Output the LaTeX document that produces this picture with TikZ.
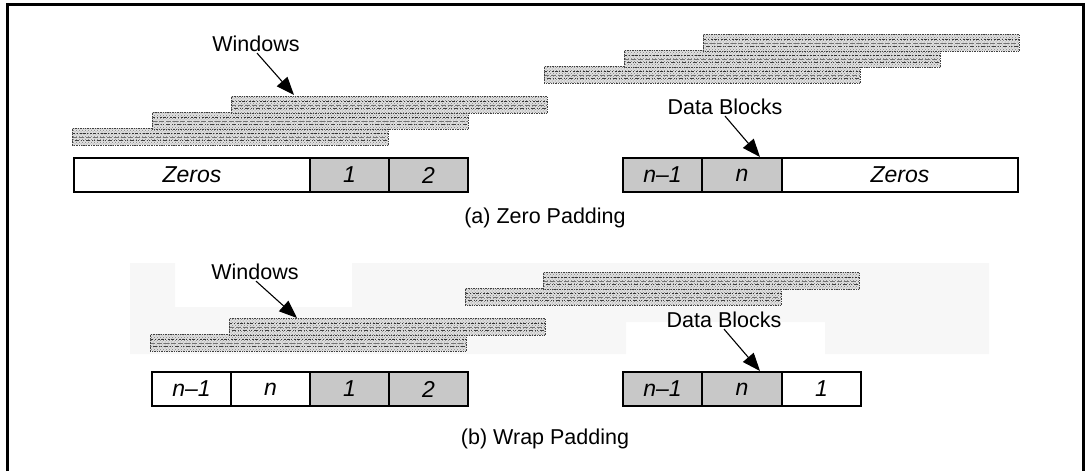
\documentclass[tikz,border=0pt]{standalone}
\usepackage{fontspec}
\setmainfont{Liberation Sans}
\usetikzlibrary{arrows.meta,patterns}
\definecolor{cellgray}{HTML}{C8C8C8}
\definecolor{faint}{HTML}{F7F7F7}
\begin{document}
\begin{tikzpicture}[x=1pt,y=-1pt,
  cell/.style={draw, line width=1.4pt, minimum height=34pt, minimum width=79pt, inner sep=0pt,
    font=\itshape\fontsize{23}{27}\selectfont},
  gcell/.style={cell, fill=cellgray},
  lbl/.style={inner sep=1pt, font=\fontsize{21.5}{25}\selectfont},
  arr/.style={line width=1.1pt, -{Triangle[length=18pt,width=14pt]}},
  win/.style={draw=black!75, densely dotted, line width=0.7pt, inner sep=0pt,
    minimum width=316pt, minimum height=17pt, anchor=north west,
    preaction={fill=gray!24}, pattern=crosshatch dots, pattern color=black!50,
    path picture={
      \draw[black!80, solid, dash pattern=on 3pt off 1.5pt on 1pt off 2pt on 2pt off 1pt, line width=0.9pt]
        ([yshift=-5pt]path picture bounding box.north west) -- ([yshift=-5pt]path picture bounding box.north east);
      \draw[black!75, solid, dash pattern=on 1pt off 2pt on 4pt off 2pt on 1pt off 1pt, line width=0.9pt]
        ([yshift=5pt]path picture bounding box.south west) -- ([yshift=5pt]path picture bounding box.south east);
      \draw[black!55, solid, dash pattern=on 5pt off 2pt, line width=0.6pt]
        (path picture bounding box.west) -- (path picture bounding box.east);}},
]
\useasboundingbox (0,0) rectangle (1086,471);
% frame
\draw[line width=3pt] (7,471) -- (7,4) -- (1083,4) -- (1083,471);

% ---------- (a) Zero padding ----------
\node[win] (wa1) at (72,128) {};
\node[win] (wa2) at (152,112) {};
\node[win] (wa3) at (231,96) {};
\node[win] (wa4) at (544,66) {};
\node[win] (wa5) at (624,50) {};
\node[win] (wa6) at (703,34) {};

\node[cell, minimum width=236pt] (az0) at (192,175) {Zeros};
\node[gcell] (a1) at (349.5,175) {1};
\node[gcell] (a2) at (428.5,175) {2};

\node[gcell] (an1) at (662.5,175) {n–1};
\node[gcell] (an) at (742,175) {n};
\node[cell, minimum width=236pt] (az1) at (900,175) {Zeros};

\node[lbl] (wla) at (256,44) {Windows};
\coordinate (wlat) at (294,95);
\draw[arr] ([xshift=1pt]wla.south) -- (wlat);

\node[lbl] (dla) at (725,107) {Data Blocks};
\coordinate (dlat) at (760,157);
\draw[arr] (dla.south) -- (dlat);

\node[lbl] (capa) at (545,218) {(a) Zero Padding};

% ---------- (b) Wrap padding ----------
\fill[faint] (130,263) -- (175,263) -- (175,307) -- (352,307) -- (352,263) -- (989,263)
  -- (989,354) -- (825,354) -- (825,322) -- (626,322) -- (626,354) -- (130,354) -- cycle;

\node[win] (wb1) at (150,334) {};
\node[win] (wb2) at (229,318) {};
\node[win] (wb3) at (465,288) {};
\node[win] (wb4) at (543,272) {};

\node[cell] (bn1) at (191.5,389) {n–1};
\node[cell] (bn) at (270.5,389) {n};
\node[gcell] (b1) at (349.5,389) {1};
\node[gcell] (b2) at (428.5,389) {2};

\node[gcell] (bm1) at (662.5,389) {n–1};
\node[gcell] (bm) at (742,389) {n};
\node[cell] (bw1) at (821.5,389) {1};

\node[lbl] (wlb) at (255,272) {Windows};
\coordinate (wlbt) at (297,318);
\draw[arr] ([xshift=1pt]wlb.south) -- (wlbt);

\node[lbl] (dlb) at (724,320) {Data Blocks};
\coordinate (dlbt) at (760,371);
\draw[arr] (dlb.south) -- (dlbt);

\node[lbl] (capb) at (545,439) {(b) Wrap Padding};
\end{tikzpicture}
\end{document}
